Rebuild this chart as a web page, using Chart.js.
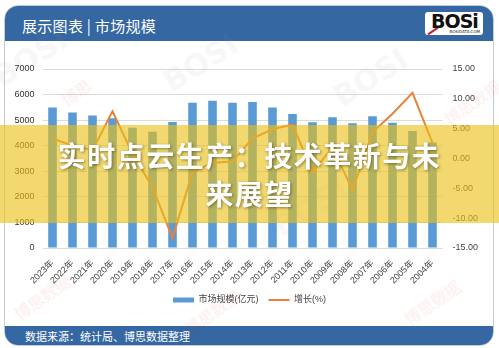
<!DOCTYPE html>
<html>
<head>
<meta charset="utf-8">
<script src="https://cdn.jsdelivr.net/npm/chart.js@4.4.1/dist/chart.umd.min.js"></script>
<style>
  html, body { margin: 0; padding: 0; }
  body { width: 499px; height: 348px; position: relative; overflow: hidden; background: #fff;
         font-family: 'Liberation Sans', 'Noto Sans CJK SC', sans-serif; }
  .card { position: absolute; left: 4px; top: 5px; width: 488px; height: 339px;
          border: 1px solid #c3ccd6; border-radius: 14px; overflow: hidden; background: #fff; }
  .header { position: absolute; left: 0; top: 0; right: 0; height: 35px; background: #3567a2; }
  .header .title { position: absolute; left: 17px; top: 9px; color: #fff; font-size: 15px;
                   font-family: 'Noto Sans CJK SC', sans-serif; letter-spacing: 0.3px; }
  .logo { position: absolute; right: 10px; top: 6px; width: 58px; height: 23px; background: #fff;
          border-radius: 3px; }
  .logo .big { position: absolute; left: 6px; top: -2px; font: bold 19px 'DejaVu Sans', sans-serif;
               color: #111; letter-spacing: -1px; }
  .logo .small { position: absolute; right: 3px; bottom: 1px; font: 4px 'DejaVu Sans', sans-serif; color: #222; }
  .logo .stripe { position: absolute; left: 2px; bottom: 3px; width: 12px; height: 2px; background: #c8202a;
                  transform: rotate(-35deg); }
  .footer { position: absolute; left: 0; right: 0; bottom: 0; height: 19px; background: #3567a2; }
  .footer span { position: absolute; left: 20px; top: 2px; color: #fff; font-size: 11px;
                 font-family: 'Noto Sans CJK SC', sans-serif; }
  canvas { position: absolute; left: 0; top: 0; }
  .wm { position: absolute; pointer-events: none; white-space: nowrap; }
  .wm.g { color: rgba(150,150,150,0.08); font: bold 30px 'DejaVu Sans', sans-serif; transform: rotate(-32deg); }
  .wm.r { color: rgba(220,60,60,0.07); font: bold 16px 'Noto Sans CJK SC', sans-serif; transform: rotate(-35deg); }
  .banner { position: absolute; left: 0; top: 125px; width: 499px; height: 98px;
            background: rgba(234, 192, 22, 0.62); }
  .banner div { position: absolute; left: 0; width: 499px; text-align: center; color: #fff;
                font: bold 28px 'Noto Sans CJK SC', sans-serif; letter-spacing: 1.5px;
                text-shadow: 1px 1px 3px rgba(60,50,0,0.55); line-height: 32px; }
</style>
</head>
<body>
<div class="card">
  <div class="header">
    <div class="title">展示图表 | 市场规模</div>
    <div class="logo"><div class="stripe"></div><div class="big">BOSi</div><div class="small">BOSIDATA.COM</div></div>
  </div>
  <div class="footer"><span>数据来源：统计局、博思数据整理</span></div>
</div>
<canvas id="chart" width="499" height="348"></canvas>
<div class="wm g" style="left:-10px;top:40px;">BOSI</div>
<div class="wm g" style="left:160px;top:45px;">BOSI</div>
<div class="wm g" style="left:330px;top:60px;">BOSI</div>
<div class="wm g" style="left:270px;top:190px;">BOSI</div>
<div class="wm r" style="left:60px;top:80px;">博思</div>
<div class="wm r" style="left:440px;top:90px;">博思数据</div>
<div class="wm r" style="left:10px;top:285px;">博思数据</div>
<div class="wm r" style="left:180px;top:300px;">博思数据</div>
<div class="wm r" style="left:400px;top:290px;">博思数据</div>
<div class="banner">
  <div style="top:14px;">实时点云生产：技术革新与未</div>
  <div style="top:52px;">来展望</div>
</div>
<script>
const years = ['2023年', '2022年', '2021年', '2020年', '2019年', '2018年', '2017年', '2016年', '2015年', '2014年',
               '2013年', '2012年', '2011年', '2010年', '2009年', '2008年', '2007年', '2006年', '2005年', '2004年'];
const marketSize = [5490, 5300, 5180, 5070, 4700, 4550, 4930, 5680, 5760, 5680,
                    5710, 5490, 5240, 4920, 5110, 4875, 5155, 4900, 4580, 4130];
const growth = [3.3, 2.2, 1.4, 7.9, 0.8, -4.8, -13.3, -2.3, -0.7, -0.5,
                3.4, 4.9, 5.7, -2.3, 1.9, -5.3, 4.4, 7.5, 11.0, 2.6];
const leftTicks = { min: 0, max: 7000, step: 1000 };
const rightTicks = { min: -15, max: 15, step: 5 };

const tickFont = { family: "'Liberation Sans', 'Noto Sans CJK SC', sans-serif", size: 9 };

new Chart(document.getElementById('chart'), {
    data: {
        labels: years,
        datasets: [
            {
                type: 'bar',
                label: '市场规模(亿元)',
                data: marketSize,
                backgroundColor: '#5b9bd5',
                borderWidth: 0,
                yAxisID: 'y',
                categoryPercentage: 1,
                barPercentage: 0.43,
                pointStyle: 'rect',
                order: 2
            },
            {
                type: 'line',
                label: '增长(%)',
                data: growth,
                borderColor: '#e8823a',
                backgroundColor: '#e8823a',
                borderWidth: 2,
                pointRadius: 0,
                tension: 0,
                yAxisID: 'y1',
                pointStyle: 'line',
                order: 1
            }
        ]
    },
    options: {
        responsive: false,
        devicePixelRatio: 1,
        animation: false,
        layout: { padding: { top: 69, left: 0, right: 0, bottom: 33.5 } },
        scales: {
            x: {
                grid: { display: false },
                border: { display: false },
                ticks: { font: tickFont, color: '#444', minRotation: 45, maxRotation: 45, autoSkip: false, padding: 2 },
                afterFit: s => { s.height = 37.5; }
            },
            y: {
                position: 'left',
                min: leftTicks.min,
                max: leftTicks.max,
                border: { display: false },
                grid: { color: '#dcdcdc', drawTicks: false },
                ticks: { stepSize: leftTicks.step, font: tickFont, color: '#333', padding: 8,
                         callback: v => String(v) },
                afterFit: s => { s.width = 42.5; }
            },
            y1: {
                position: 'right',
                min: rightTicks.min,
                max: rightTicks.max,
                border: { display: false },
                grid: { display: false, drawTicks: false },
                ticks: { stepSize: rightTicks.step, font: tickFont, color: '#444', padding: 10,
                         callback: v => v.toFixed(2) },
                afterFit: s => { s.width = 56.5; }
            }
        },
        plugins: {
            legend: {
                position: 'bottom',
                labels: {
                    usePointStyle: true,
                    pointStyleWidth: 21,
                    boxHeight: 5,
                    padding: 10,
                    font: tickFont,
                    color: '#444',
                    sort: (a, b) => a.datasetIndex - b.datasetIndex
                }
            },
            tooltip: { enabled: false }
        }
    }
});
</script>
</body>
</html>
